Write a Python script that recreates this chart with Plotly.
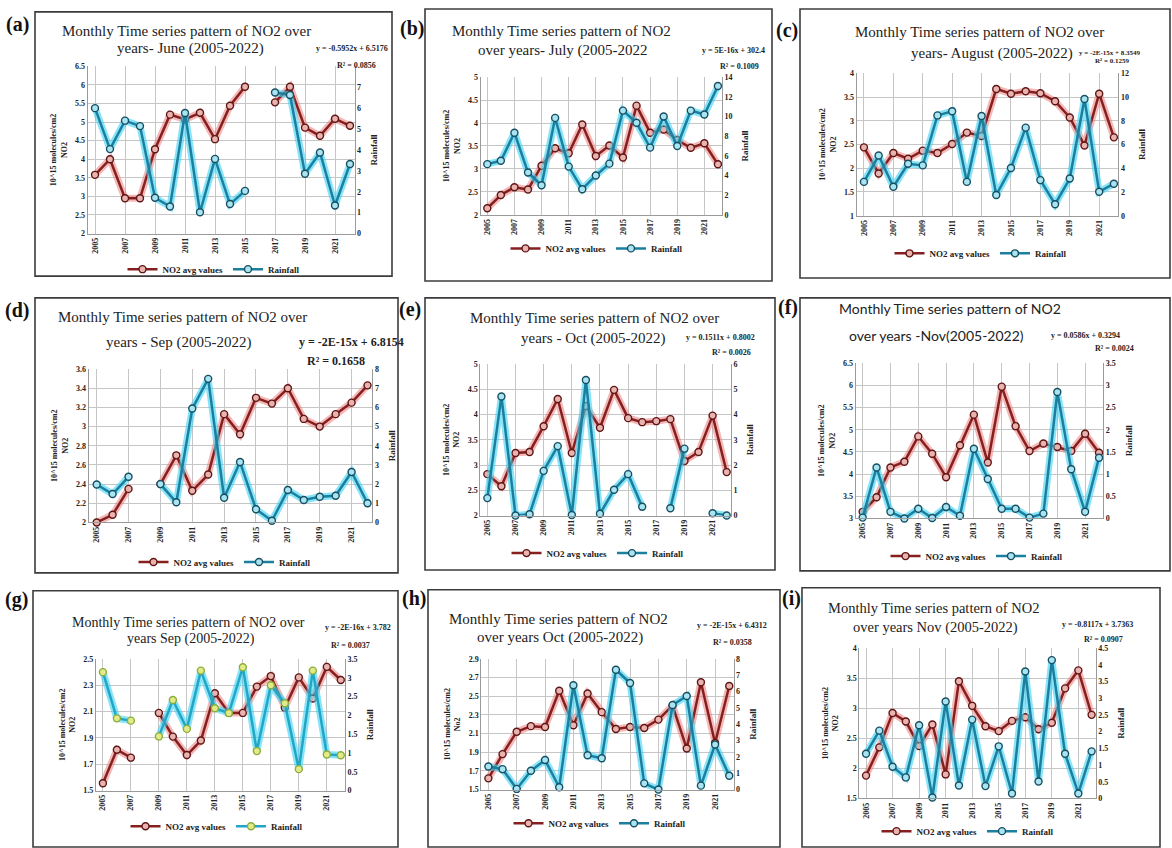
import plotly.graph_objects as go

# ---------------------------------------------------------------------------
# Data: monthly mean NO2 column (10^15 molecules/cm2) and rainfall, 2005-2022
# ---------------------------------------------------------------------------
YEARS = list(range(2005, 2023))
YEAR_TICKS = list(range(2005, 2022, 2))

no2_jun = [3.58, 4.0, 2.95, 2.95, 4.27, 5.2, 5.07, 5.25, 4.54, 5.44, 5.95, None, 5.53, 5.95, 4.85, 4.63, 5.09, 4.9]
rain_jun = [6.0, 4.04, 5.4, 5.14, 1.71, 1.29, 5.77, 1.02, 3.57, 1.41, 2.04, None, 6.75, 6.63, 2.86, 3.88, 1.34, 3.33]

no2_jul = [2.14, 2.43, 2.6, 2.55, 3.07, 3.45, 3.34, 3.97, 3.28, 3.51, 3.25, 4.38, 3.79, 3.86, 3.63, 3.46, 3.56, 3.1]
rain_jul = [5.15, 5.49, 8.35, 4.3, 3.0, 9.86, 4.9, 2.6, 4.0, 5.2, 10.6, 9.36, 6.83, 10.0, 7.0, 10.6, 10.2, 13.1]

no2_aug = [2.44, 1.89, 2.32, 2.2, 2.37, 2.32, 2.51, 2.75, 2.68, 3.67, 3.57, 3.62, 3.58, 3.41, 3.07, 2.48, 3.57, 2.65]
rain_aug = [2.85, 5.07, 2.44, 4.38, 4.24, 8.45, 8.8, 2.85, 8.4, 1.75, 4.02, 7.42, 3.0, 0.97, 3.13, 9.83, 2.02, 2.7]

no2_sep = [2.0, 2.08, 2.35, None, 2.4, 2.7, 2.33, 2.5, 3.13, 2.92, 3.3, 3.24, 3.4, 3.08, 3.0, 3.13, 3.25, 3.43]
rain_sep = [1.98, 1.48, 2.38, None, 2.0, 1.05, 5.94, 7.49, 1.29, 3.15, 0.69, 0.09, 1.69, 1.17, 1.34, 1.39, 2.63, 1.0]

no2_oct = [2.82, 2.58, 3.24, 3.26, 3.77, 4.31, 3.24, 4.17, 3.74, 4.49, 3.93, 3.85, 3.87, 3.91, 3.08, 3.26, 3.98, 2.86]
rain_oct = [0.69, 4.72, 0.0, 0.05, 1.77, 2.75, 0.02, 5.37, 0.07, 1.02, 1.64, 0.35, None, 0.29, 2.65, None, 0.09, 0.0]

no2_nov = [3.15, 3.48, 4.15, 4.28, 4.85, 4.46, 3.93, 4.65, 5.34, 4.26, 5.97, 5.08, 4.52, 4.69, 4.61, 4.52, 4.91, 4.48]
rain_nov = [0.02, 1.15, 0.15, 0.0, 0.22, 0.01, 0.26, 0.06, 1.57, 0.89, 0.22, 0.22, 0.02, 0.11, 2.85, 1.11, 0.15, 1.37]

no2_sep_2 = [1.555, 1.81, 1.75, None, 2.09, 1.91, 1.77, 1.88, 2.24, 2.09, 2.09, 2.29, 2.37, 2.13, 2.36, 2.2, 2.44, 2.34]
rain_sep_2 = [3.15, 1.92, 1.86, None, 1.44, 2.41, 1.64, 3.19, 2.19, 2.06, 3.28, 1.05, 2.8, 2.32, 0.57, 3.19, 0.96, 0.94]

no2_oct_2 = [1.62, 1.88, 2.12, 2.18, 2.17, 2.56, 2.19, 2.53, 2.33, 2.15, 2.17, 2.16, 2.25, 2.4, 1.94, 2.65, 2.0, 2.61]
rain_oct_2 = [1.41, 1.25, 0.04, 1.15, 1.81, 0.14, 6.39, 2.1, 1.92, 7.34, 6.53, 0.38, 0.0, 5.18, 5.73, 0.24, 2.76, 0.85]

no2_nov_2 = [1.88, 2.35, 2.92, 2.78, 2.37, 2.73, 1.9, 3.45, 3.04, 2.7, 2.62, 2.79, 2.85, 2.65, 2.76, 3.33, 3.63, 2.89]
rain_nov_2 = [1.34, 2.03, 0.95, 0.63, 2.19, 0.03, 2.9, 0.39, 2.36, 0.37, 1.56, 0.15, 3.8, 0.51, 4.14, 1.34, 0.15, 1.41]

# ---------------------------------------------------------------------------
# Page geometry (pixels) and styling
# ---------------------------------------------------------------------------
W, H = 1172, 848
SERIF = "Liberation Serif, Times New Roman, serif"
SANS = "Lato, Carlito, Noto Sans, sans-serif"

NO2_LINE, NO2_GLOW, NO2_FILL, NO2_EDGE = "#85201f", "rgba(235,125,125,0.55)", "#e9b4b0", "#5e1514"
RAIN_LINE, RAIN_GLOW, RAIN_FILL, RAIN_EDGE = "#1b7f9e", "rgba(60,210,245,0.6)", "#a8e4f2", "#184e60"
GRID = "#c6c6c6"
AXIS = "#9a9a9a"


def fx(px):
    return px / W


def fy(py):
    return 1 - py / H


PANELS = [
    dict(tag="(a)", tag_xy=(17, 21), no2=no2_jun, rain=rain_jun,
         box=(35, 8, 392, 275), plot=(87.5, 63, 354.5, 232),
         left=(2, 6.5, 0.5), right=(0, 7, 1), right_top=8,
         title=[("Monthly Time series pattern of NO2 over", 187, 27),
                ("years- June (2005-2022)", 190, 45)], tfont=SERIF, tsize=15,
         eq=("y = -0.5952x + 6.5176", 352, 45), r2=("R² = 0.0856", 356, 62), esize=8,
         legend=(214, 268), nlabel="NO2"),
    dict(tag="(b)", tag_xy=(412, 25), no2=no2_jul, rain=rain_jul,
         box=(425, 5, 772, 280), plot=(480.5, 74, 722, 213),
         left=(2, 5, 0.5), right=(0, 14, 2), right_top=14,
         title=[("Monthly Time series pattern of NO2", 561, 27),
                ("over years- July (2005-2022", 563, 47)], tfont=SERIF, tsize=15,
         eq=("y = 5E-16x + 302.4", 733, 47), r2=("R² = 0.1009", 739, 63), esize=8,
         legend=(597, 247), nlabel="NO2"),
    dict(tag="(c)", tag_xy=(787, 27), no2=no2_aug, rain=rain_aug,
         box=(800, 5, 1170, 277), plot=(856.6, 70, 1118.3, 214),
         left=(1, 4, 0.5), right=(0, 12, 2), right_top=12,
         title=[("Monthly Time series pattern of NO2 over", 979, 28),
                ("years- August (2005-2022)", 992, 50)], tfont=SERIF, tsize=15,
         eq=("y = -2E-15x + 8.3549", 1110, 50), r2=("R² = 0.1259", 1112, 58), esize=7,
         legend=(981, 252), nlabel="NO2"),
    dict(tag="(d)", tag_xy=(17, 310), no2=no2_sep, rain=rain_sep,
         box=(35, 297, 398, 575), plot=(88.7, 369, 372.3, 524),
         left=(2, 3.6, 0.2), right=(0, 8, 1), right_top=8,
         title=[("Monthly Time series pattern of NO2 over", 182, 316),
                ("years - Sep (2005-2022)", 178, 342)], tfont=SERIF, tsize=15,
         eq=("y = -2E-15x + 6.8154", 351, 342), r2=("R² = 0.1658", 336, 361), esize=12,
         legend=(225, 564), nlabel="NO2"),
    dict(tag="(e)", tag_xy=(410, 309), no2=no2_oct, rain=rain_oct,
         box=(425, 297, 775, 572), plot=(480.3, 364, 730.9, 517),
         left=(2, 5, 0.5), right=(0, 6, 1), right_top=6,
         title=[("Monthly Time series pattern of NO2 over", 594, 317),
                ("years - Oct (2005-2022)", 593, 338)], tfont=SERIF, tsize=15,
         eq=("y = 0.1511x + 0.8002", 720, 337), r2=("R² = 0.0026", 731, 352), esize=8,
         legend=(598, 555), nlabel="NO2"),
    dict(tag="(f)", tag_xy=(788, 307), no2=no2_nov, rain=rain_nov,
         box=(800, 297, 1170, 573), plot=(855.7, 363, 1103.2, 520),
         left=(3, 6.5, 0.5), right=(0, 3.5, 0.5), right_top=3.5,
         title=[("Monthly Time series pattern of NO2", 950, 308),
                ("over years -Nov(2005-2022)", 936, 335)], tfont=SANS, tsize=14,
         eq=("y = 0.0586x + 0.3294", 1085, 335), r2=("R² = 0.0024", 1114, 348), esize=8,
         legend=(977, 558), nlabel="NO2"),
    dict(tag="(g)", tag_xy=(16, 602), no2=no2_sep_2, rain=rain_sep_2,
         box=(33, 593, 398, 852), plot=(95.9, 662, 345, 795),
         left=(1.5, 2.5, 0.2), right=(0, 3.5, 0.5), right_top=3.5,
         title=[("Monthly Time series pattern of NO2 over", 188, 625),
                ("years Sep (2005-2022)", 191, 642)], tfont=SERIF, tsize=14,
         eq=("y = -2E-16x + 3.782", 358, 630), r2=("R² = 0.0037", 350, 648), esize=8,
         legend=(217, 831), nlabel="NO2", green=True),
    dict(tag="(h)", tag_xy=(414, 601), no2=no2_oct_2, rain=rain_oct_2,
         box=(428, 592, 780, 852), plot=(481.3, 662, 733.5, 794),
         left=(1.5, 2.9, 0.2), right=(0, 8, 1), right_top=8,
         title=[("Monthly Time series pattern of NO2", 558, 622),
                ("over years Oct (2005-2022)", 560, 640)], tfont=SERIF, tsize=15,
         eq=("y = -2E-15x + 6.4312", 732, 628), r2=("R² = 0.0358", 732, 645), esize=8,
         legend=(600, 828), nlabel="No2"),
    dict(tag="(i)", tag_xy=(791, 601), no2=no2_nov_2, rain=rain_nov_2,
         box=(802, 590, 1160, 852), plot=(859.4, 651, 1095.6, 803),
         left=(1.5, 4, 0.5), right=(0, 4.5, 0.5), right_top=4.5,
         title=[("Monthly Time series pattern of NO2", 933, 610),
                ("over years Nov (2005-2022)", 935, 630)], tfont=SERIF, tsize=14.5,
         eq=("y = -0.8117x + 3.7363", 1097, 627), r2=("R² = 0.0907", 1103, 642), esize=8,
         legend=(968, 836), nlabel="NO2"),
]


def ticks(lo, hi, step):
    n = int(round((hi - lo) / step))
    return [round(lo + i * step, 3) for i in range(n + 1)]


fig = go.Figure()
layout = dict(
    width=W, height=H, margin=dict(l=0, r=0, t=0, b=0),
    paper_bgcolor="white", plot_bgcolor="white",
    font=dict(family=SERIF, color="#1a1a1a"),
    shapes=[], annotations=[],
)

tick_font = dict(family=SERIF, size=8, color="#222", weight="bold")

for k, p in enumerate(PANELS):
    xs = "" if k == 0 else str(k + 1)
    yl = "" if k == 0 else str(2 * k + 1)
    yr = str(2 * k + 2)
    xref, ylref, yrref = "x" + xs, "y" + yl, "y" + yr
    leg = "legend" if k == 0 else "legend" + str(k + 1)

    L, T, R, B = p["plot"]
    green = p.get("green", False)
    rain_line = "#22a6c6" if green else RAIN_LINE
    rain_fill = "#e2ea8a" if green else RAIN_FILL
    rain_edge = "#8aae3a" if green else RAIN_EDGE

    # soft halo under each line
    fig.add_trace(go.Scatter(x=YEARS, y=p["no2"], xaxis=xref, yaxis=ylref, mode="lines",
                             line=dict(color=NO2_GLOW, width=7), showlegend=False,
                             hoverinfo="skip", cliponaxis=False))
    fig.add_trace(go.Scatter(x=YEARS, y=p["no2"], xaxis=xref, yaxis=ylref, mode="lines+markers",
                             name="NO2 avg values", legend=leg, cliponaxis=False,
                             line=dict(color=NO2_LINE, width=2.5),
                             marker=dict(symbol="circle", size=7, color=NO2_FILL,
                                         line=dict(color=NO2_EDGE, width=1.4))))
    fig.add_trace(go.Scatter(x=YEARS, y=p["rain"], xaxis=xref, yaxis=yrref, mode="lines",
                             line=dict(color=RAIN_GLOW, width=7), showlegend=False,
                             hoverinfo="skip", cliponaxis=False))
    fig.add_trace(go.Scatter(x=YEARS, y=p["rain"], xaxis=xref, yaxis=yrref, mode="lines+markers",
                             name="Rainfall", legend=leg, cliponaxis=False,
                             line=dict(color=rain_line, width=2.5),
                             marker=dict(symbol="circle", size=7, color=rain_fill,
                                         line=dict(color=rain_edge, width=1.4))))

    lo, hi, st = p["left"]
    rlo, rhi, rst = p["right"]
    rtop = p["right_top"]

    layout["xaxis" + xs] = dict(
        domain=[fx(L), fx(R)], anchor=ylref, range=[2004.5, 2022.3],
        tickmode="array", tickvals=YEAR_TICKS, ticktext=[str(y) for y in YEAR_TICKS],
        tickangle=-90, tickfont=tick_font, showgrid=True, gridcolor=GRID, gridwidth=1,
        showline=True, linecolor=AXIS, linewidth=1, zeroline=False, ticks="",
        fixedrange=True,
    )
    layout["yaxis" + yl] = dict(
        domain=[fy(B), fy(T)], anchor=xref, range=[lo, hi],
        tickmode="array", tickvals=ticks(lo, hi, st), tickfont=tick_font,
        showgrid=True, gridcolor=GRID, gridwidth=1, showline=True, linecolor=AXIS,
        zeroline=False, ticks="",
        title=dict(text="10^15 molecules/cm2<br>" + p["nlabel"], standoff=6,
                   font=dict(family=SERIF, size=8, color="#222", weight="bold")),
    )
    layout["yaxis" + yr] = dict(
        overlaying=ylref, side="right", anchor=xref, range=[rlo, rtop],
        tickmode="array", tickvals=ticks(rlo, rhi, rst), tickfont=tick_font,
        showgrid=False, showline=True, linecolor=AXIS, zeroline=False, ticks="",
        title=dict(text="Rainfall", standoff=10,
                   font=dict(family=SERIF, size=9, color="#222", weight="bold")),
    )

    lx, ly = p["legend"]
    layout[leg] = dict(
        orientation="h", x=fx(lx), y=fy(ly), xanchor="center", yanchor="middle",
        bgcolor="rgba(0,0,0,0)", font=dict(family=SERIF, size=9, color="#222", weight="bold"),
        itemwidth=30, tracegroupgap=0,
    )

    bx0, by0, bx1, by1 = p["box"]
    layout["shapes"].append(dict(type="rect", xref="paper", yref="paper",
                                 x0=fx(bx0), y0=fy(by1), x1=fx(bx1), y1=fy(by0),
                                 line=dict(color="#3c3c3c", width=1.6),
                                 fillcolor="rgba(0,0,0,0)", layer="below"))

    tx, ty = p["tag_xy"]
    layout["annotations"].append(dict(text="<b>" + p["tag"] + "</b>", x=fx(tx), y=fy(ty),
                                      xref="paper", yref="paper", showarrow=False,
                                      xanchor="center", yanchor="middle",
                                      font=dict(family=SERIF, size=20, color="#111")))
    for text, cx, cy in p["title"]:
        layout["annotations"].append(dict(text=text, x=fx(cx), y=fy(cy), xref="paper", yref="paper",
                                          showarrow=False, xanchor="center", yanchor="middle",
                                          font=dict(family=p["tfont"], size=p["tsize"], color="#222")))
    for text, cx, cy in (p["eq"], p["r2"]):
        layout["annotations"].append(dict(text="<b>" + text + "</b>", x=fx(cx), y=fy(cy),
                                          xref="paper", yref="paper", showarrow=False,
                                          xanchor="center", yanchor="middle",
                                          font=dict(family=SERIF, size=p["esize"], color="#222")))

fig.update_layout(**layout)
fig.write_html("out.html")
